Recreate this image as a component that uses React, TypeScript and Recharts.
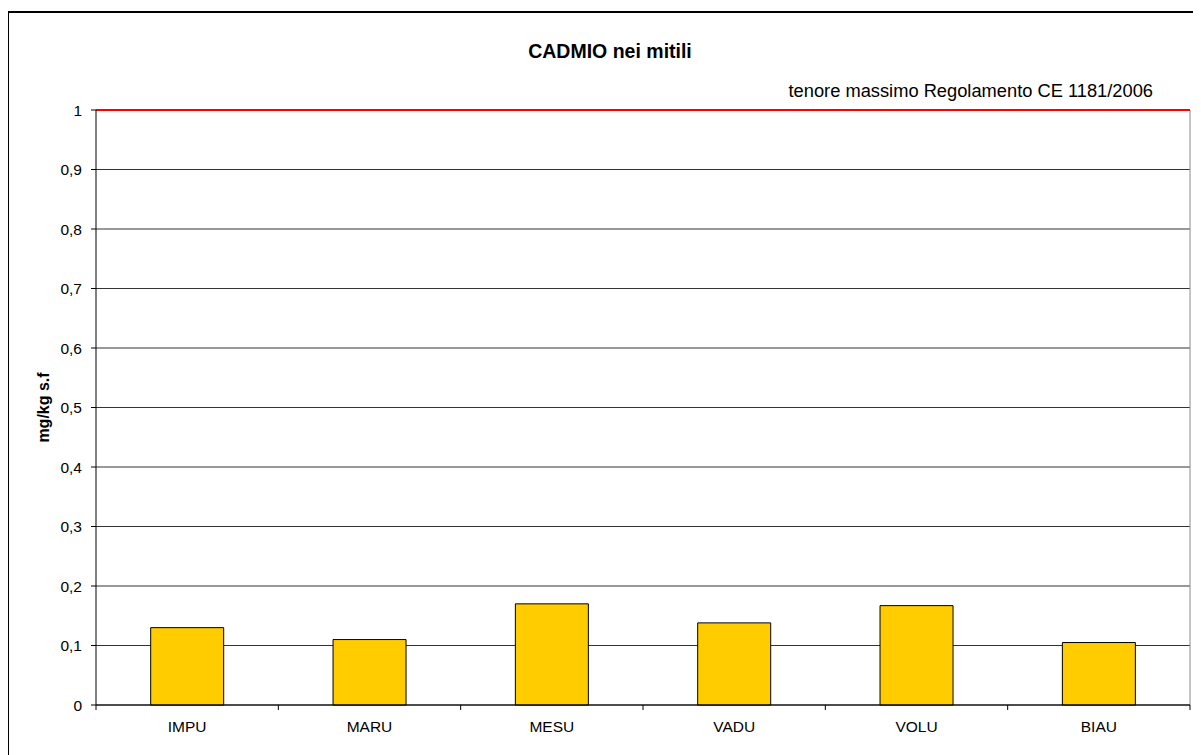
import React from "react";
import {
  BarChart,
  Bar,
  XAxis,
  YAxis,
  CartesianGrid,
  ReferenceLine,
} from "recharts";

const CATEGORIES = ["IMPU", "MARU", "MESU", "VADU", "VOLU", "BIAU"];
const CADMIO = [0.13, 0.11, 0.17, 0.138, 0.167, 0.105];
const TENORE_MASSIMO = 1;
const Y_TICKS = [0, 0.1, 0.2, 0.3, 0.4, 0.5, 0.6, 0.7, 0.8, 0.9, 1];

const FONT = "'Liberation Sans', Arial, sans-serif";
const X_TICK_SIZE = 6;
const X_TICK_MARGIN = 10;

const data = CATEGORIES.map((name, i) => ({ name, cadmio: CADMIO[i] }));

const fmt = (v: number) => String(Math.round(v * 10) / 10).replace(".", ",");

// category label in the middle, tick marks on the band edges
function StationTick(props: any) {
  const { x, y, payload, index } = props;
  const off = payload?.offset ?? 0;
  const axisY = y - X_TICK_SIZE - X_TICK_MARGIN;
  const last = index === CATEGORIES.length - 1;
  return (
    <g>
      <line x1={x - off} x2={x - off} y1={axisY} y2={axisY + 5} stroke="#000" />
      {last && <line x1={x + off} x2={x + off} y1={axisY} y2={axisY + 5} stroke="#000" />}
      <text
        x={x}
        y={y}
        dy="0.71em"
        textAnchor="middle"
        fontSize={15.5}
        fontFamily={FONT}
        fill="#000"
      >
        {payload.value}
      </text>
    </g>
  );
}

export default function App() {
  return (
    <div style={{ position: "relative", width: 1201, height: 755 }}>
      <div
        style={{
          position: "absolute",
          left: -1,
          top: 3,
          width: 1194,
          height: 744,
          boxSizing: "border-box",
          borderLeft: "2px solid #000",
          borderTop: "2px solid #000",
        }}
      />
      <div
        style={{
          position: "absolute",
          left: 402,
          top: 34,
          width: 400,
          textAlign: "center",
          fontFamily: FONT,
          fontWeight: "bold",
          fontSize: 19.5,
          lineHeight: "19px",
        }}
      >
        CADMIO nei mitili
      </div>
      <div style={{ position: "absolute", left: -8, top: -8 }}>
        <BarChart
          width={1201}
          height={755}
          data={data}
          margin={{ top: 110, right: 11, bottom: 20, left: 36 }}
          barCategoryGap="30%"
        >
          <CartesianGrid horizontal vertical={false} stroke="#333" />
          <CartesianGrid
            horizontal={false}
            vertical
            stroke="#8a8a8a"
            verticalCoordinatesGenerator={({ offset }: any) => [
              offset.left + offset.width,
            ]}
          />
          <XAxis
            dataKey="name"
            height={30}
            axisLine={{ stroke: "#000" }}
            tickLine={false}
            tickSize={X_TICK_SIZE}
            tickMargin={X_TICK_MARGIN}
            interval={0}
            tick={<StationTick />}
          />
          <YAxis
            width={60}
            domain={[0, 1]}
            ticks={Y_TICKS}
            tickFormatter={fmt}
            axisLine={{ stroke: "#000" }}
            tickLine={{ stroke: "#000" }}
            tickSize={5}
            tickMargin={9}
            tick={{ fontSize: 15.5, fontFamily: FONT, fill: "#000" }}
            label={{
              content: ({ viewBox }: any) => {
                const { x, y, height } = viewBox;
                return (
                  <text
                    transform={`translate(${x + 7},${y + height / 2}) rotate(-90)`}
                    textAnchor="middle"
                    dominantBaseline="central"
                    fontSize={16}
                    fontWeight="bold"
                    fontFamily={FONT}
                    fill="#000"
                  >
                    mg/kg s.f
                  </text>
                );
              },
            }}
          />
          <Bar
            dataKey="cadmio"
            fill="#ffcc00"
            stroke="#000"
            strokeWidth={1}
            isAnimationActive={false}
          />
          <ReferenceLine
            y={TENORE_MASSIMO}
            stroke="#ff0000"
            strokeWidth={2}
            label={{
              content: ({ viewBox }: any) => (
                <text
                  x={viewBox.x + viewBox.width - 37}
                  y={viewBox.y - 13}
                  textAnchor="end"
                  fontSize={18.3}
                  fontFamily={FONT}
                  fill="#000"
                >
                  tenore massimo Regolamento CE 1181/2006
                </text>
              ),
            }}
          />
        </BarChart>
      </div>
    </div>
  );
}
